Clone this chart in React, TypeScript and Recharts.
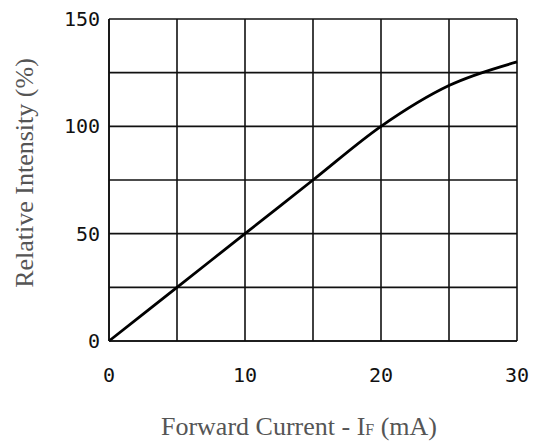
import { CartesianGrid, Line, LineChart, XAxis, YAxis } from "recharts";

const currentMa = [0, 5, 10, 15, 20, 25, 30];
const intensityPct = [0, 25, 50, 75, 100, 119, 130];

const xTicks = [0, 5, 10, 15, 20, 25, 30];
const xLabelled = [0, 10, 20, 30];
const yTicks = [0, 25, 50, 75, 100, 125, 150];
const yLabelled = [0, 50, 100, 150];

const data = currentMa.map((c, i) => ({ current: c, intensity: intensityPct[i] }));

const tickStyle = {
  fontFamily: "'DejaVu Sans Mono', monospace",
  fontSize: 20,
  fill: "#111",
};

const titleStyle = {
  position: "absolute" as const,
  whiteSpace: "nowrap" as const,
  fontFamily: "'Liberation Serif', serif",
  fontSize: 26,
  lineHeight: 1,
  color: "#555",
};

export default function App() {
  return (
    <div
      style={{
        position: "absolute",
        left: 0,
        top: 0,
        width: 540,
        height: 445,
        background: "#fff",
        overflow: "hidden",
      }}
    >
      <LineChart
        width={540}
        height={445}
        data={data}
        margin={{ top: 19, right: 23, bottom: 74, left: 0 }}
      >
        <CartesianGrid stroke="#111" strokeWidth={1.6} />
        <XAxis
          type="number"
          dataKey="current"
          domain={[0, 30]}
          ticks={xTicks}
          tickFormatter={(v) => (xLabelled.includes(v) ? String(v) : "")}
          tickSize={0}
          tickMargin={27}
          height={30}
          axisLine={{ stroke: "#111", strokeWidth: 1.6 }}
          tick={tickStyle}
        />
        <YAxis
          type="number"
          domain={[0, 150]}
          ticks={yTicks}
          tickFormatter={(v) => (yLabelled.includes(v) ? String(v) : "")}
          tickSize={0}
          tickMargin={9}
          width={109}
          axisLine={{ stroke: "#111", strokeWidth: 1.6 }}
          tick={tickStyle}
        />
        <Line
          type="monotone"
          dataKey="intensity"
          stroke="#000"
          strokeWidth={2.8}
          dot={false}
          isAnimationActive={false}
        />
      </LineChart>
      <div
        style={{
          ...titleStyle,
          left: 25,
          top: 173,
          transform: "translate(-50%, -50%) rotate(-90deg)",
        }}
      >
        Relative Intensity (%)
      </div>
      <div
        style={{
          ...titleStyle,
          left: 299,
          top: 427,
          transform: "translate(-50%, -50%)",
        }}
      >
        Forward Current - I<span style={{ fontSize: 16 }}>F</span> (mA)
      </div>
    </div>
  );
}
